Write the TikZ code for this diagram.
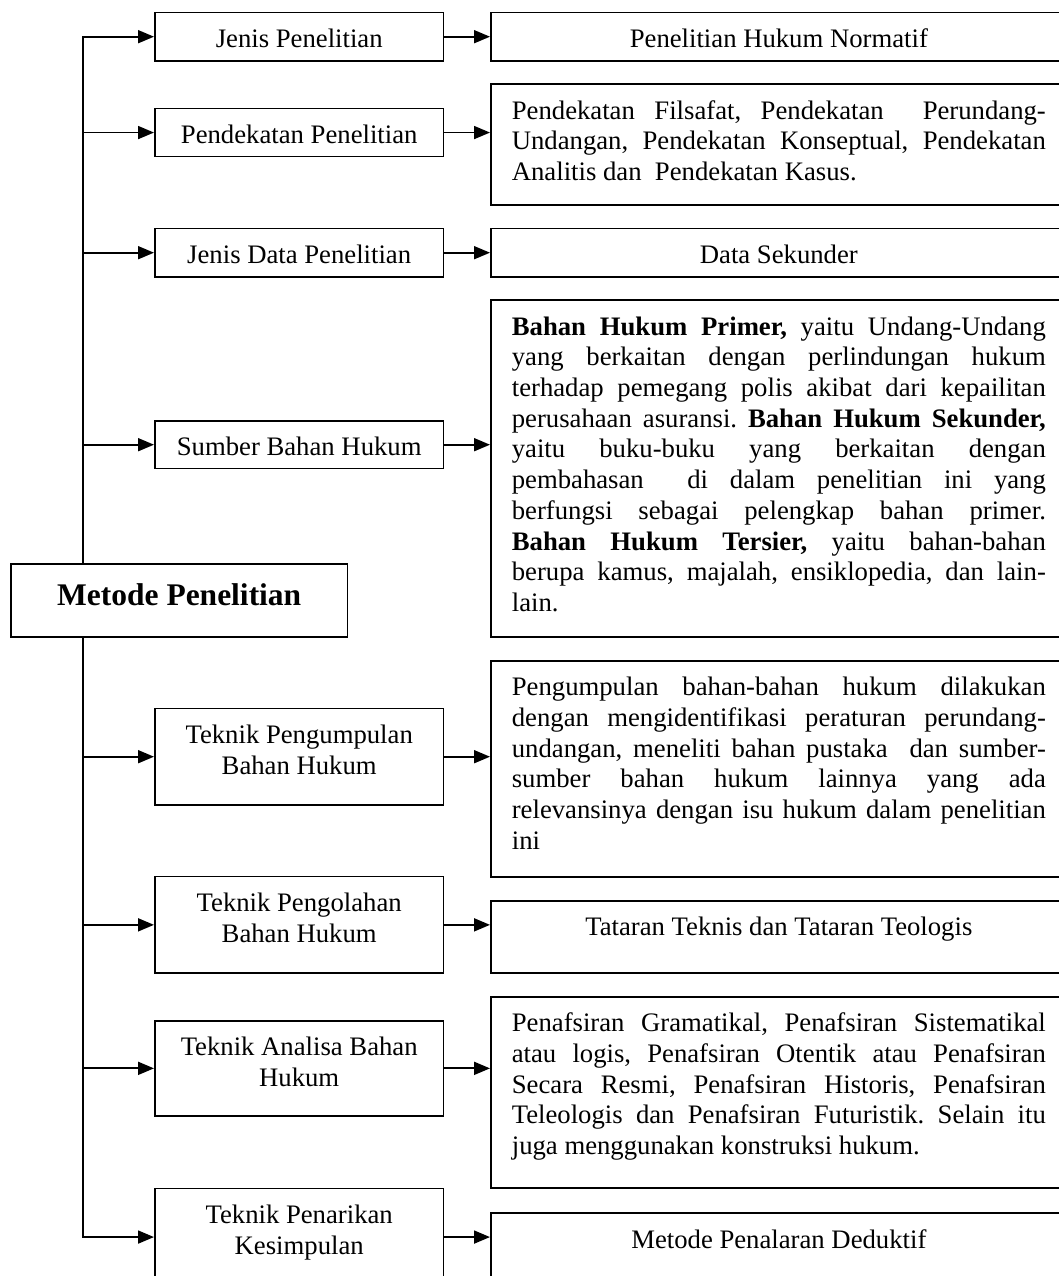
\documentclass[tikz,border=0pt]{standalone}
\usepackage{fontspec}
\setmainfont{Liberation Serif}[Ligatures=CommonOff]
\usetikzlibrary{arrows.meta}
\frenchspacing
\newcommand\lbtext[2]{\parbox[c][#1][t]{288.7pt}{\centering\rule{0pt}{35pt}#2}}
\newcommand\rbtext[2]{\parbox[c][#1][t]{534pt}{\tolerance=10000\hyphenpenalty=10000\exhyphenpenalty=10000\rule{0pt}{35pt}#2}}
\begin{document}
\begin{tikzpicture}[x=1pt,y=-1pt,
  every node/.style={font=\fontsize{26.7pt}{30.7pt}\selectfont},
  bx/.style={draw, line width=1.7pt, fill=white, inner sep=0pt, anchor=north west},
  rbx/.style={bx, inner xsep=21pt, inner ysep=0pt},
  arr/.style={line width=1.8pt, -{Triangle[length=16pt,width=13pt]}},
  ln/.style={line width=1.8pt}]
\fill[white] (0,0) rectangle (1059,1276);
\useasboundingbox (0,0) rectangle (1059,1276);
\coordinate (tx) at (82.7,0);
% left column
\node[bx] (L1) at (154,11.7) {\lbtext{48.3pt}{Jenis Penelitian}};
\node[bx] (L2) at (154,107.7) {\lbtext{48pt}{Pendekatan Penelitian}};
\node[bx] (L3) at (154,227.7) {\lbtext{48.3pt}{Jenis Data Penelitian}};
\node[bx] (L4) at (154,420) {\lbtext{47.7pt}{Sumber Bahan Hukum}};
\node[bx] (L5) at (154,707.7) {\lbtext{96.3pt}{Teknik Pengumpulan\\Bahan Hukum}};
\node[bx] (L6) at (154,875.7) {\lbtext{96.6pt}{Teknik Pengolahan\\Bahan Hukum}};
\node[bx] (L7) at (154,1020) {\lbtext{95pt}{Teknik Analisa Bahan\\Hukum}};
\node[bx] (L8) at (154,1187.7) {\lbtext{97pt}{Teknik Penarikan\\Kesimpulan}};
% right column
\node[rbx] (R1) at (490,11.7) {\rbtext{48.3pt}{\centering Penelitian Hukum Normatif}};
\node[rbx] (R2) at (490,83.3) {\rbtext{120.7pt}{Pendekatan Filsafat, Pendekatan~ Perundang-\linebreak
Undangan, Pendekatan Konseptual, Pendekatan\linebreak
Analitis dan~ Pendekatan Kasus.}};
\node[rbx] (R3) at (490,227.7) {\rbtext{48.3pt}{\centering Data Sekunder}};
\node[rbx] (R4) at (490,299.3) {\rbtext{336.7pt}{\textbf{Bahan Hukum Primer,} yaitu Undang-Undang\linebreak
yang berkaitan dengan perlindungan hukum\linebreak
terhadap pemegang polis akibat dari kepailitan\linebreak
perusahaan asuransi. \textbf{Bahan Hukum Sekunder,}\linebreak
yaitu buku-buku yang berkaitan dengan\linebreak
pembahasan~ di dalam penelitian ini yang\linebreak
berfungsi sebagai pelengkap bahan primer.\linebreak
\textbf{Bahan Hukum Tersier,} yaitu bahan-bahan\linebreak
berupa kamus, majalah, ensiklopedia, dan lain-\linebreak
lain.}};
\node[rbx] (R5) at (490,660) {\rbtext{216pt}{Pengumpulan bahan-bahan hukum dilakukan\linebreak
dengan mengidentifikasi peraturan perundang-\linebreak
undangan, meneliti bahan pustaka~ dan sumber-\linebreak
sumber bahan hukum lainnya yang ada\linebreak
relevansinya dengan isu hukum dalam penelitian\linebreak
ini}};
\node[rbx] (R6) at (490,900) {\rbtext{72.3pt}{\centering Tataran Teknis dan Tataran Teologis}};
\node[rbx] (R7) at (490,996) {\rbtext{191.3pt}{Penafsiran Gramatikal, Penafsiran Sistematikal\linebreak
atau logis, Penafsiran Otentik atau Penafsiran\linebreak
Secara Resmi, Penafsiran Historis, Penafsiran\linebreak
Teleologis dan Penafsiran Futuristik. Selain itu\linebreak
juga menggunakan konstruksi hukum.}};
\node[rbx] (R8) at (490,1212.3) {\rbtext{72pt}{\centering Metode Penalaran Deduktif}};
% trunk
\draw[ln, line cap=rect] (L1.west -| tx) -- (L8.west -| tx);
\node[bx] (M) at (10,563.3) {\parbox[c][72.7pt][t]{336.7pt}{\centering\rule{0pt}{41pt}\fontsize{31.5pt}{36pt}\selectfont\bfseries Metode Penelitian}};
% connectors
\foreach \i in {1,...,8} {
  \draw[arr] (L\i.west -| tx) -- (L\i.west);
  \draw[arr] (L\i.east) -- (L\i.east -| R\i.west);
}
\end{tikzpicture}
\end{document}
